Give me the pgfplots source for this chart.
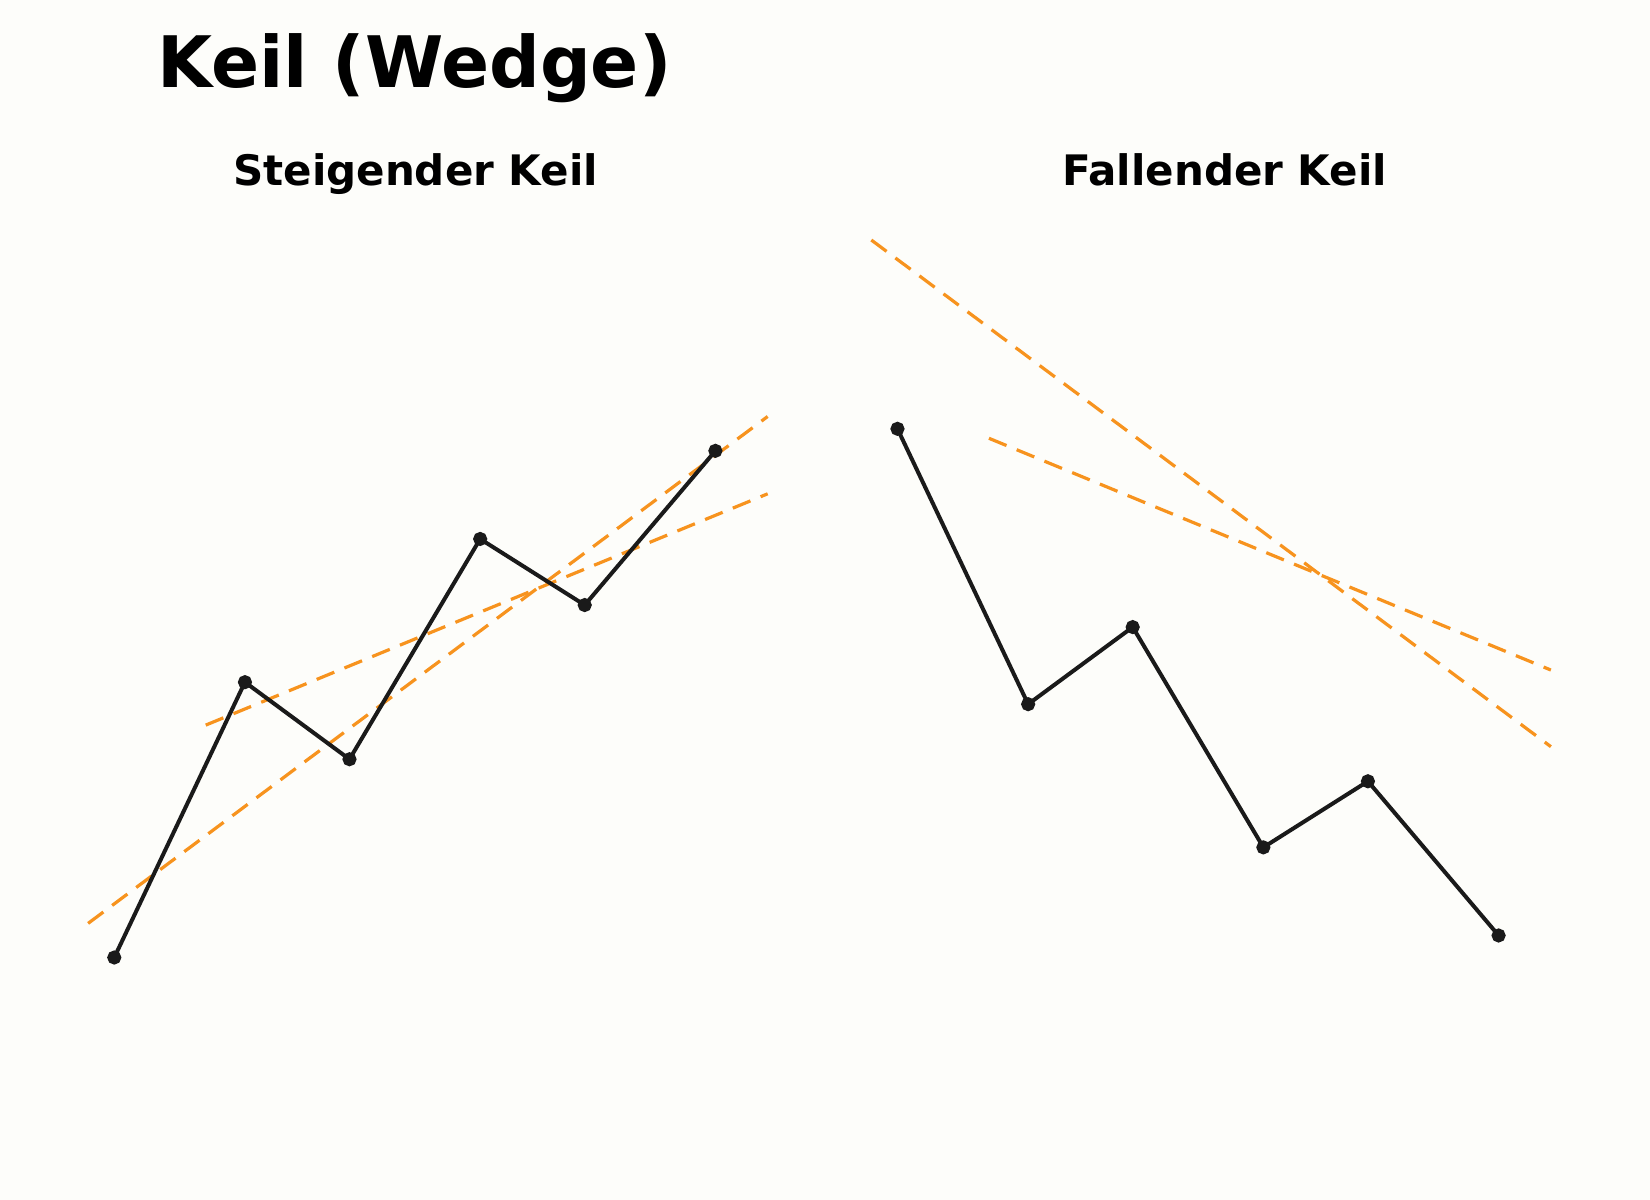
\documentclass[border=0pt]{standalone}
\usepackage{pgfplots}
\pgfplotsset{compat=1.18}
\usepackage{fontspec}
\setmainfont{DejaVu Sans}
\definecolor{bgc}{HTML}{FDFDFA}
\definecolor{wedgeorange}{RGB}{247,147,30}
\definecolor{pricec}{HTML}{1A1A1A}
\begin{document}
\begin{tikzpicture}
\fill[bgc] (0pt,0pt) rectangle (825pt,600pt);
\node[anchor=base,font=\fontsize{35.5}{40}\selectfont\bfseries] at (207.25pt,556.35pt) {Keil (Wedge)};
\node[anchor=base,font=\fontsize{21}{25}\selectfont\bfseries] at (207.8pt,507.2pt) {Steigender Keil};
\node[anchor=base,font=\fontsize{21}{25}\selectfont\bfseries] at (612.3pt,507.2pt) {Fallender Keil};
\pgfplotsset{wedgeax/.style={
  scale only axis, width=365.9pt, height=418.55pt,
  xmin=-2, xmax=26, ymin=-2, ymax=36, hide axis, clip=false, anchor=south west},
  priceline/.style={color=pricec, line width=2pt, mark=*, mark size=2.5pt, mark options={fill=pricec,draw=pricec}},
  trendline/.style={color=wedgeorange, line width=1.6pt, dash pattern=on 9.5pt off 5.5pt, mark=none}}
\begin{axis}[wedgeax, at={(31.0pt,88.2pt)}]
\addplot[trendline] coordinates {(-1,2.55) (25,25.56)};
\addplot[trendline] coordinates {(3.5,11.55) (25,22.05)};
\addplot[priceline] coordinates {(0,1) (5,13.5) (9,10) (14,20) (18,17) (23,24)};
\end{axis}
\begin{axis}[wedgeax, at={(422.6pt,88.2pt)}]
\addplot[trendline] coordinates {(-1,33.57) (25,10.57)};
\addplot[trendline] coordinates {(3.5,24.57) (25,14.05)};
\addplot[priceline] coordinates {(0,25) (5,12.5) (9,16) (14,6) (18,9) (23,2)};
\end{axis}
\end{tikzpicture}
\end{document}
